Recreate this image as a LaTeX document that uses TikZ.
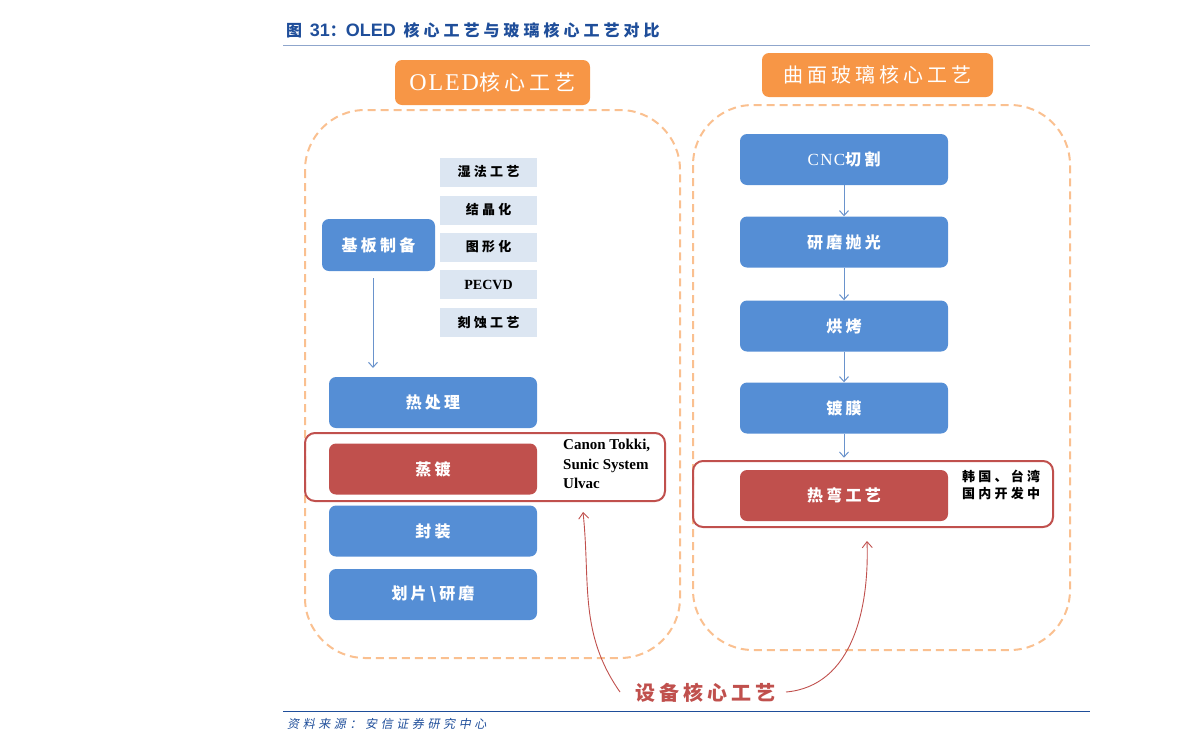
\documentclass[tikz,border=0pt]{standalone}
\usepackage{fontspec}
\setmainfont{Liberation Serif}
\newfontfamily\cjk[LetterSpace=20]{Noto Sans CJK SC}
\newfontfamily\cjkt[LetterSpace=25]{Noto Sans CJK SC}
\newfontfamily\cjkn{Noto Sans CJK SC}
\newfontfamily\cjki[LetterSpace=30,FakeSlant=0.2]{Noto Sans CJK SC}
\newfontfamily\wideserif[LetterSpace=8]{Liberation Serif}
\newfontfamily\latsans{Liberation Sans}
\usetikzlibrary{arrows.meta}
\definecolor{cblue}{HTML}{558ED5}
\definecolor{cred}{HTML}{C0504D}
\definecolor{corange}{HTML}{F79646}
\definecolor{cdash}{HTML}{FAC090}
\definecolor{clight}{HTML}{DCE6F2}
\definecolor{ctitle}{HTML}{1F4E9A}
\definecolor{carrow}{HTML}{6A93CC}
\tikzset{
  bluebox/.style={fill=cblue, rounded corners=7pt, text=white, minimum width=208pt, minimum height=51pt, inner sep=0pt, font=\cjk\bfseries\fontsize{16}{18}\selectfont},
  redbox/.style={bluebox, fill=cred},
  lightbox/.style={fill=clight, minimum width=97pt, minimum height=29pt, inner sep=0pt, font=\cjkt\bfseries\fontsize{13}{15}\selectfont},
  headbox/.style={fill=corange, rounded corners=7pt, text=white, inner sep=0pt},
  dashbox/.style={draw=cdash, line width=2pt, dash pattern=on 8pt off 5pt, rounded corners=60pt},
  outbox/.style={draw=cred, line width=2pt, rounded corners=10pt},
  flow/.style={draw=carrow, line width=1pt, -{Straight Barb[length=5pt,width=9pt]}},
  redarrow/.style={draw=cred, line width=0.9pt, -{Straight Barb[length=6pt,width=10pt]}},
}
\begin{document}
\begin{tikzpicture}[x=1pt,y=-1pt]
\useasboundingbox (0,0) rectangle (1191,753);
% title and rules
\node[anchor=west, text=ctitle, font=\cjkt\bfseries\fontsize{16}{18}\selectfont, inner sep=0pt] (title) at (286,30) {图 {\latsans\bfseries\fontsize{18}{18}\selectfont 31}{\cjkn\bfseries ：}{\latsans\bfseries\fontsize{18}{18}\selectfont OLED} 核心工艺与玻璃核心工艺对比};
\draw[draw=ctitle!50, line width=1pt] (283,45) -- (1090,45);
\draw[draw=ctitle, line width=1pt] (283,711) -- (1090,711);
\node[anchor=west, text=ctitle, font=\cjki\fontsize{12}{14}\selectfont, inner sep=0pt] (src) at (287,724) {资料来源：安信证券研究中心};

% left panel
\draw[dashbox] (305,110) rectangle (680,658);
\node[headbox, minimum width=195pt, minimum height=45pt] (h1) at (492.5,82.5) {{\wideserif\fontsize{24}{26}\selectfont OLED}{\cjk\fontsize{21}{23}\selectfont 核心工艺}};
\node[bluebox, minimum width=113pt, minimum height=52pt] (jb) at (378.5,245) {基板制备};
\node[lightbox] (l1) at (488.5,172) {湿法工艺};
\node[lightbox] (l2) at (488.5,210) {结晶化};
\node[lightbox] (l3) at (488.5,247) {图形化};
\node[lightbox, font=\bfseries\fontsize{14}{16}\selectfont] (l4) at (488.5,284.5) {PECVD};
\node[lightbox] (l5) at (488.5,322.5) {刻蚀工艺};
\node[bluebox] (rcl) at (433,402.5) {热处理};
\draw[outbox] (305,433) rectangle (665,501);
\node[redbox] (zd) at (433,469) {蒸镀};
\node[anchor=north west, align=left, font=\bfseries\fontsize{15}{19.5}\selectfont, inner sep=0pt] (sup1) at (563,439) {Canon Tokki,\\Sunic System\\Ulvac};
\node[bluebox] (fz) at (433,531) {封装};
\node[bluebox] (hp) at (433,594.5) {划片\textbackslash 研磨};
\coordinate (a1s) at (373,278);
\draw[flow] (a1s) -- (373,368) coordinate (a1e);

% right panel
\draw[dashbox] (693,105) rectangle (1070,650);
\node[headbox, minimum width=231pt, minimum height=44pt] (h2) at (877.5,75) {\cjk\fontsize{20}{22}\selectfont 曲面玻璃核心工艺};
\node[bluebox] (cnc) at (844,159.5) {{\wideserif\mdseries\fontsize{17}{19}\selectfont CNC}切割};
\node[bluebox] (ym) at (844,242) {研磨抛光};
\node[bluebox] (hk) at (844,326) {烘烤};
\node[bluebox] (dm) at (844,408) {镀膜};
\draw[outbox] (693,461) rectangle (1053,527);
\node[redbox] (rw) at (844,495.5) {热弯工艺};
\node[anchor=north west, align=left, font=\cjkt\bfseries\fontsize{13}{17}\selectfont, inner sep=0pt] (sup2) at (962,470) {韩国、台湾\\国内开发中};
\draw[flow] (cnc) -- (ym);
\draw[flow] (ym) -- (hk);
\draw[flow] (hk) -- (dm);
\draw[flow] (dm.south) -- ++(0,24);

% bottom label
\node[text=cred, font=\cjk\bfseries\fontsize{20}{22}\selectfont, inner sep=0pt] (lbl) at (705,693) {设备核心工艺};
\coordinate (tl) at (583,512);
\coordinate (tr) at (867,541);
\coordinate (sl) at (620,692);
\coordinate (sr) at (786,692);
\draw[redarrow] (sl) to[out=125,in=-84] (tl);
\draw[redarrow] (sr) to[out=5,in=-88] (tr);
\end{tikzpicture}
\end{document}
